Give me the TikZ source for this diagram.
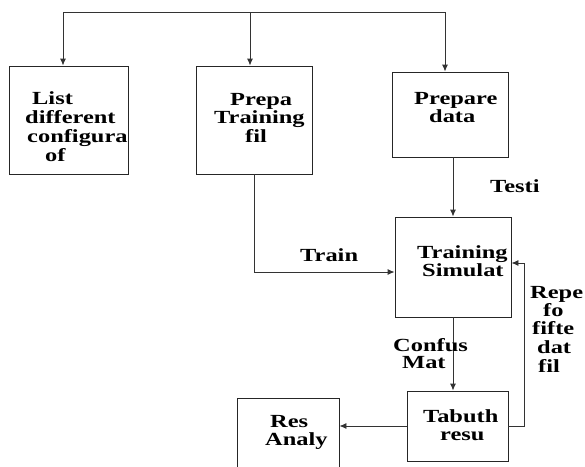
\documentclass[tikz,border=0pt]{standalone}
\usepackage{fontspec}
\setmainfont{Liberation Serif}[FakeStretch=1.32]
\usetikzlibrary{arrows.meta}
\begin{document}
\begin{tikzpicture}[x=1pt,y=-1pt,
  box/.style={draw=black!85,line width=0.9pt,rectangle,inner sep=0pt},
  conn/.style={draw=black!80,line width=0.9pt},
  arr/.style={conn,-{Latex[length=7pt,width=6pt]}},
  lbl/.style={anchor=base west,inner sep=0pt,font=\fontsize{18.5}{19}\selectfont\bfseries}]
\useasboundingbox (0,0) rectangle (585,466);
% boxes
\node[box,minimum width=119pt,minimum height=108pt] (b1) at (68.5,120) {};
\node[box,minimum width=116pt,minimum height=108pt] (b2) at (254,120) {};
\node[box,minimum width=116pt,minimum height=85pt] (b3) at (450,114.5) {};
\node[box,minimum width=116pt,minimum height=100pt] (b4) at (453,267) {};
\node[box,minimum width=101pt,minimum height=70pt] (b5) at (457.5,426) {};
\node[box,minimum width=102pt,minimum height=84pt] (b6) at (288,440) {};
% bus
\coordinate (c1) at (63,12);
\coordinate (c2) at (250,12);
\coordinate (c3) at (445,12);
\coordinate (fb) at (524,300);
\draw[conn] (c1) -- (c3);
\draw[arr] (c1) -- (c1 |- b1.north);
\draw[arr] (c2) -- (c2 |- b2.north);
\draw[arr] (c3) -- (c3 |- b3.north);
\draw[arr] (b4.north |- b3.south) -- (b4.north);
\draw[arr] (b2.south) |- ([yshift=-5pt]b4.west);
\draw[arr] (b4.south) -- (b4.south |- b5.north);
\draw[arr] (b5.west) -- (b5.west -| b6.east);
\draw[arr] (b5.east) -| (fb) |- ([yshift=4pt]b4.east);
% labels
\node[lbl] (t1a) at (32,104.5) {List};
\node[lbl] (t1b) at (25,123) {different};
\node[lbl] (t1c) at (27,142) {configura};
\node[lbl] (t1d) at (45,161) {of};
\node[lbl] (t2a) at (230,105) {Prepa};
\node[lbl] (t2b) at (214,123) {Training};
\node[lbl] (t2c) at (245,142) {fil};
\node[lbl] (t3a) at (414,104) {Prepare};
\node[lbl] (t3b) at (429,122) {data};
\node[lbl] (t4a) at (417,258) {Training};
\node[lbl] (t4b) at (422,276) {Simulat};
\node[lbl] (tr) at (300,261) {Train};
\node[lbl] (te) at (490,192) {Testi};
\node[lbl] (cf1) at (393,351) {Confus};
\node[lbl] (cf2) at (402,368) {Mat};
\node[lbl] (rp1) at (530,298) {Repe};
\node[lbl] (rp2) at (543,316) {fo};
\node[lbl] (rp3) at (532,334) {fifte};
\node[lbl] (rp4) at (537,353) {dat};
\node[lbl] (rp5) at (538,372) {fil};
\node[lbl] (t5a) at (423,422) {Tabuth};
\node[lbl] (t5b) at (440,440) {resu};
\node[lbl] (t6a) at (270,427) {Res};
\node[lbl] (t6b) at (265,445) {Analy};
\end{tikzpicture}
\end{document}
